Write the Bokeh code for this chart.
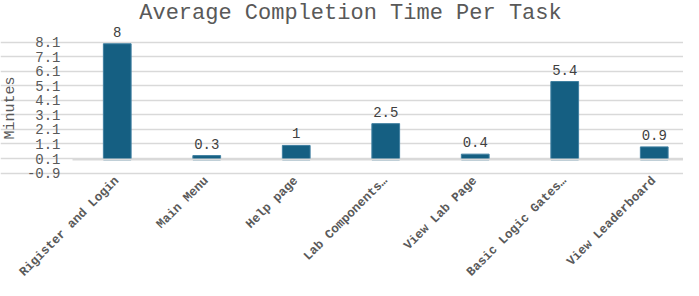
from bokeh.plotting import figure
from bokeh.models import ColumnDataSource, FixedTicker, PrintfTickFormatter, LabelSet, Label, Range1d
from bokeh.core.properties import value
from bokeh.embed import file_html
from bokeh.resources import INLINE
from math import pi

tasks = ["Rigister and Login", "Main Menu", "Help page", "Lab Components\u2026",
         "View Lab Page", "Basic Logic Gates\u2026", "View Leaderboard"]
minutes = [8, 0.3, 1, 2.5, 0.4, 5.4, 0.9]
value_labels = ["8", "0.3", "1", "2.5", "0.4", "5.4", "0.9"]
y_ticks = [-0.9, 0.1, 1.1, 2.1, 3.1, 4.1, 5.1, 6.1, 7.1, 8.1]
title_text = "Average Completion Time Per Task"
y_title = "Minutes"

pos = list(range(len(tasks)))
src = ColumnDataSource(dict(x=pos, minutes=minutes, lab=value_labels))

FONT = "Liberation Mono"
GREY = "#595959"
GRID = "#d9d9d9"
x_lo, x_hi = -0.5, len(tasks) - 0.5

p = figure(x_range=Range1d(-1.3045, 6.327), y_range=Range1d(-8.3, 10.98),
           width=683, height=280, output_backend="svg", toolbar_location=None,
           min_border_left=0, min_border_right=0, min_border_top=0, min_border_bottom=0)

p.vbar(x="x", top="minutes", bottom=0, width=0.31, source=src,
       fill_color="#155f82", line_color="#3f7fa0", line_width=1)

p.add_layout(LabelSet(x="x", y="minutes", text="lab", source=src,
                      text_align="center", text_baseline="bottom", y_offset=7,
                      text_font=value(FONT), text_font_size="14px", text_color="#404040"))

p.add_layout(Label(x=2.606, y=10.98, text=title_text, text_align="center",
                   text_baseline="top", text_font=FONT, text_font_size="22px",
                   text_color=GREY))

# x axis: zero line plus rotated category labels
p.xaxis.fixed_location = 0
p.xaxis.bounds = (x_lo, x_hi)
p.xaxis.ticker = FixedTicker(ticks=pos)
p.xaxis.major_label_overrides = {i: t for i, t in enumerate(tasks)}
p.xaxis.axis_line_color = GRID
p.xaxis.axis_line_width = 2
p.xaxis.major_tick_line_color = None
p.xaxis.minor_tick_line_color = None
p.xaxis.major_tick_out = 0
p.xaxis.major_label_standoff = 19
p.xaxis.major_label_orientation = pi / 4
p.xaxis.major_label_text_font = FONT
p.xaxis.major_label_text_font_size = "12.5px"
p.xaxis.major_label_text_font_style = "bold"
p.xaxis.major_label_text_color = GREY

# y axis
p.yaxis.fixed_location = x_lo
p.yaxis.bounds = (y_ticks[0], y_ticks[-1])
p.yaxis.ticker = FixedTicker(ticks=y_ticks)
p.yaxis.formatter = PrintfTickFormatter(format="%.1f")
p.yaxis.axis_line_color = None
p.yaxis.major_tick_line_color = None
p.yaxis.minor_tick_line_color = None
p.yaxis.major_tick_out = 0
p.yaxis.major_label_standoff = 12
p.yaxis.major_label_text_font = FONT
p.yaxis.major_label_text_font_size = "14px"
p.yaxis.major_label_text_color = GREY
p.yaxis.axis_label = y_title
p.yaxis.axis_label_text_font = FONT
p.yaxis.axis_label_text_font_size = "15px"
p.yaxis.axis_label_text_font_style = "normal"
p.yaxis.axis_label_text_color = GREY
p.yaxis.axis_label_standoff = 5

p.xgrid.grid_line_color = None
p.ygrid.grid_line_color = GRID
p.ygrid.grid_line_width = 1.5
p.ygrid.bounds = (x_lo, x_hi)
p.outline_line_color = None

open("out.html", "w").write(file_html(p, INLINE))
